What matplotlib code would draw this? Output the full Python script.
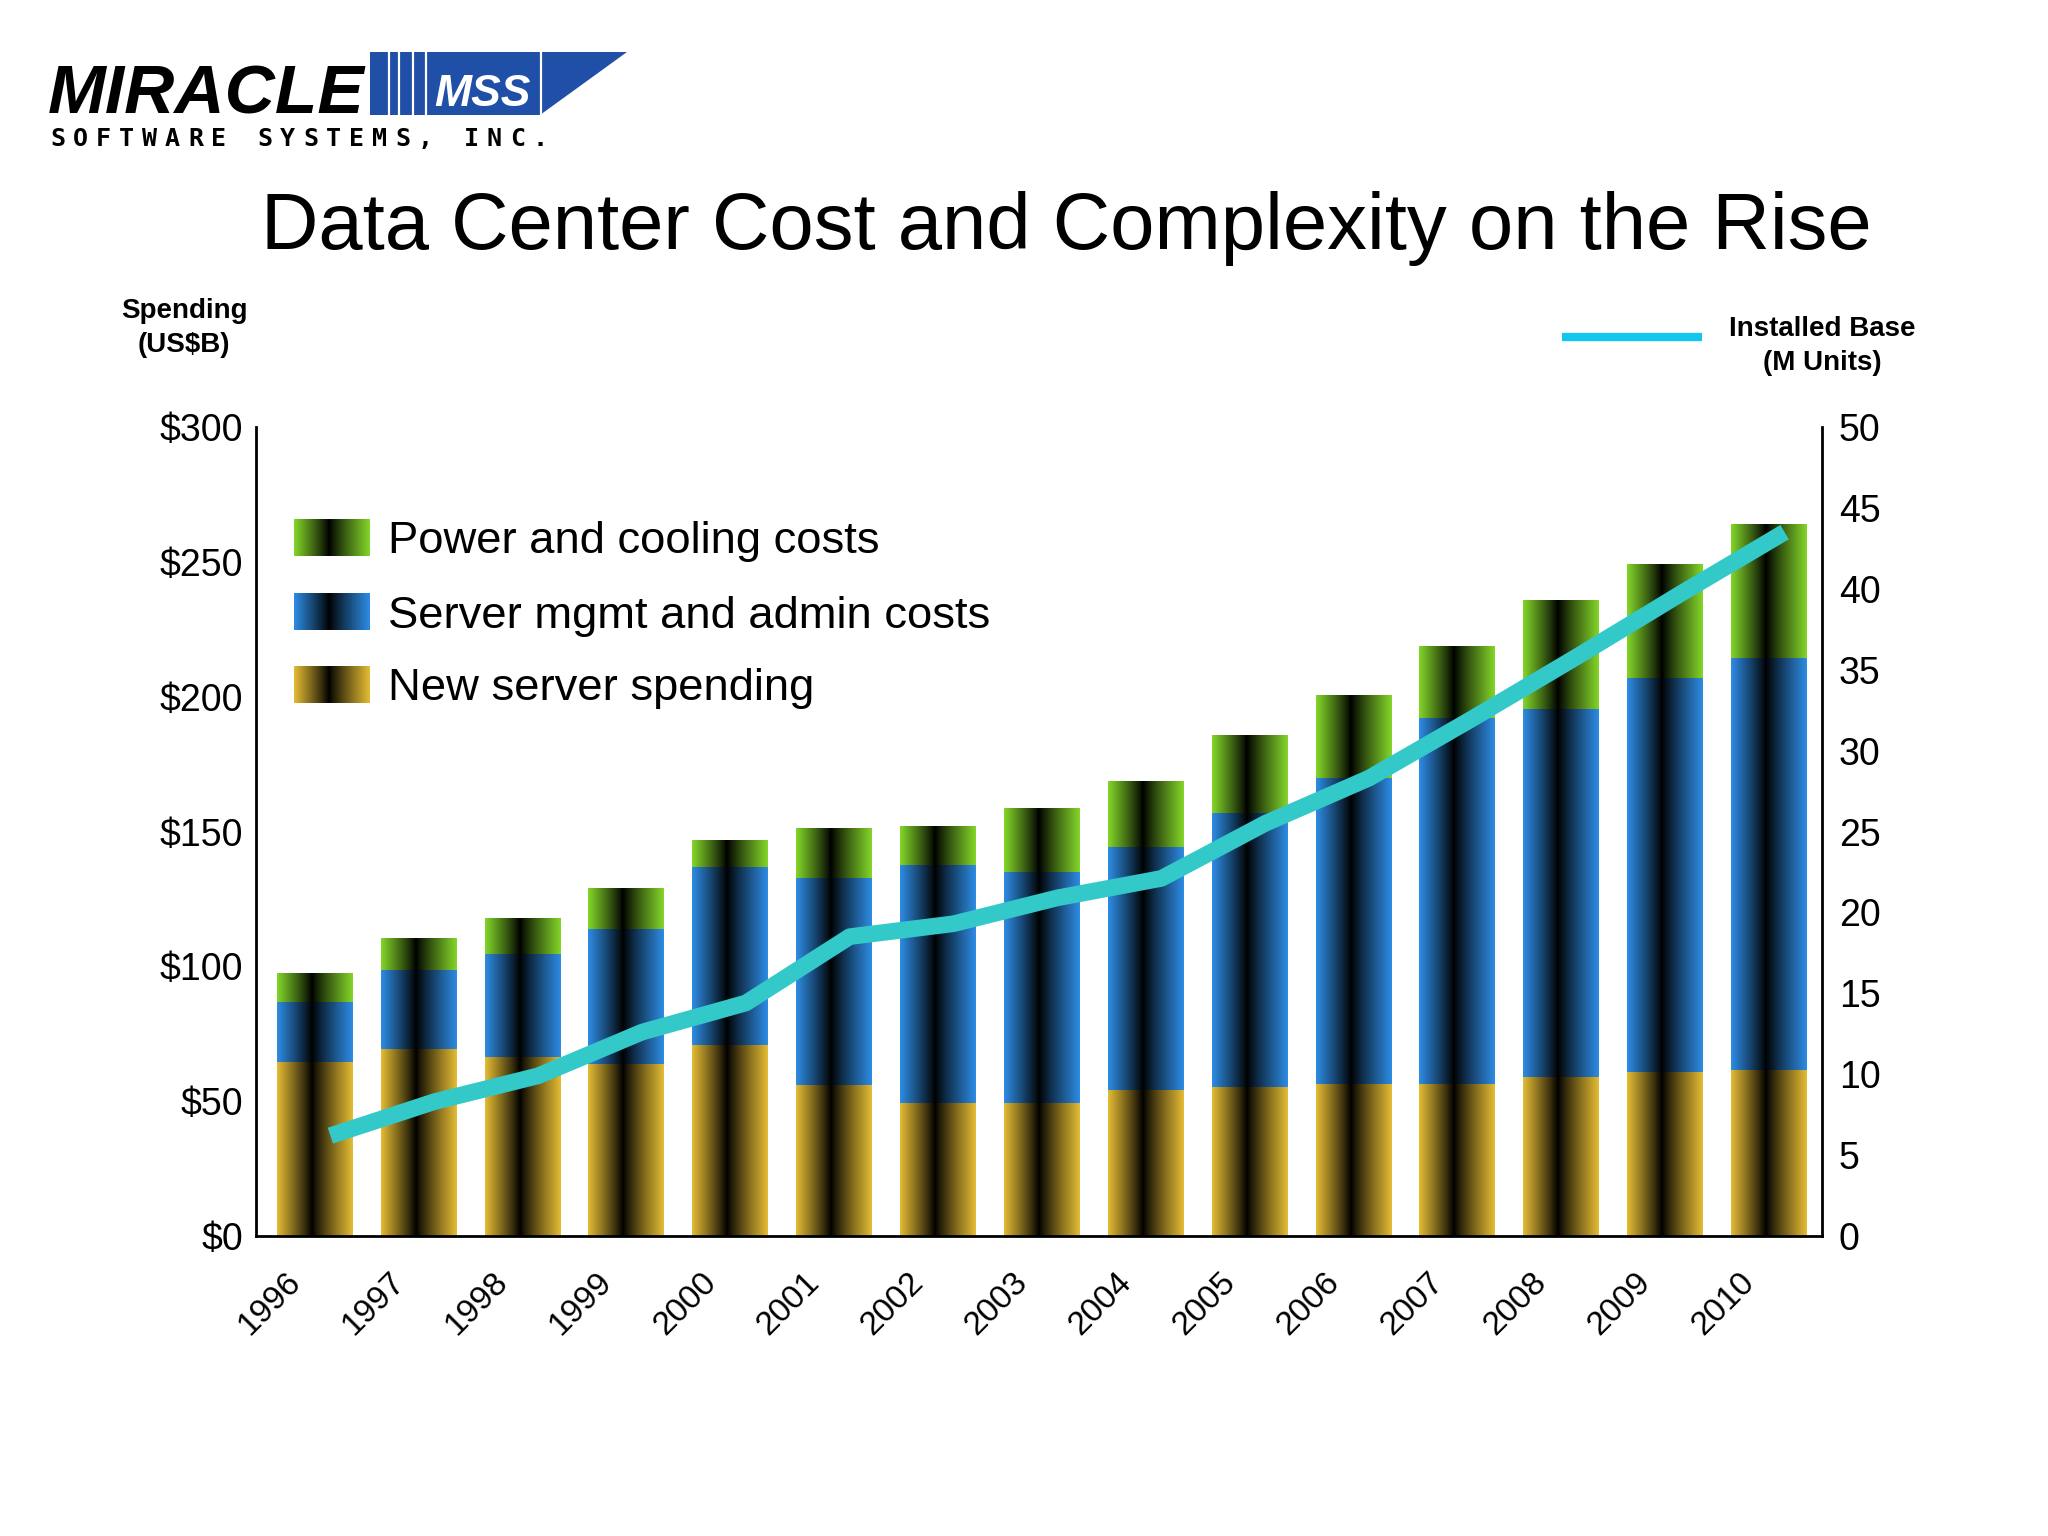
import numpy as np
import matplotlib
matplotlib.use('Agg')
import matplotlib.pyplot as plt
import matplotlib.colors as mcolors
from matplotlib.patches import Polygon
from matplotlib.transforms import Affine2D, ScaledTranslation

years = [str(y) for y in range(1996, 2011)]
# spending, US$B (stacked segments)
newServer    = [64.4, 69.2, 66.4, 63.9, 70.9, 55.9, 49.4, 49.4, 54.1, 55.2, 56.2, 56.2, 59.1, 61.0, 61.7]
mgmtAdmin    = [22.4, 29.3, 38.3, 50.0, 65.9, 76.9, 88.0, 85.7, 90.0, 101.8, 113.7, 135.9, 136.4, 146.0, 152.5]
powerCooling = [10.5, 11.5, 13.1, 15.0, 9.8, 18.3, 14.3, 23.6, 24.3, 28.6, 30.5, 26.4, 40.4, 42.1, 49.4]
# installed base, M units
installedBase = [6.2, 8.3, 9.9, 12.6, 14.4, 18.5, 19.3, 20.9, 22.1, 25.5, 28.3, 32.0, 35.8, 39.7, 43.5]
seriesNames = ['Power and cooling costs', 'Server mgmt and admin costs', 'New server spending']
yTicksLeft  = [0, 50, 100, 150, 200, 250, 300]
yTicksRight = list(range(0, 55, 5))

GREEN  = '#84d62a'
BLUE   = '#2e8ce4'
GOLD   = '#e4bc34'
LINE   = '#33c9c9'
KEYLINE = '#12c6ef'
LOGOBLUE = '#1f4fa6'

plt.rcParams['font.family'] = ['Liberation Sans', 'DejaVu Sans']

def gradient( color, n=240, center=0.46 ):
    t = np.linspace( 0, 1, n )
    f = np.where( t < center, (center-t)/center, (t-center)/(1-center) )
    f = np.clip( f, 0, 1 )**0.9
    rgb = np.array( mcolors.to_rgb(color) )
    return ( f[:,None] * rgb[None,:] )[None,:,:]

fig = plt.figure( figsize=(20.48, 15.36), dpi=100 )
W, H = 2048., 1536.
pxTrans = Affine2D().scale( 1/W, -1/H ).translate( 0, 1 ) + fig.transFigure

ax = fig.add_axes( [256/W, 1-1236/H, (1822-256)/W, (1236-427)/H] )
x = np.arange( len(years) )
barWidth = 0.73

new  = np.array( newServer )
mgmt = np.array( mgmtAdmin )
pwr  = np.array( powerCooling )
layers = [ (new, 0, GOLD), (mgmt, new, BLUE), (pwr, new+mgmt, GREEN) ]
for vals, bottom, color in layers:
    bars = ax.bar( x, vals, barWidth, bottom=bottom, color='none', edgecolor='none' )
    g = gradient( color )
    for b in bars:
        ax.imshow( g, extent=[b.get_x(), b.get_x()+b.get_width(), b.get_y(), b.get_y()+b.get_height()],
                   aspect='auto', interpolation='bilinear', zorder=2 )

ax.set_xlim( -0.566, 14.51 )
ax.set_ylim( 0, 300 )
ax.set_yticks( yTicksLeft )
ax.set_yticklabels( ['$%d' % v for v in yTicksLeft] )
ax.set_xticks( x )
ax.set_xticklabels( years, rotation=45, ha='right', va='center', rotation_mode='anchor' )
ax.tick_params( axis='y', length=0, labelsize=27, pad=9 )
ax.tick_params( axis='x', length=0, labelsize=24, pad=30 )
for lab in ax.get_xticklabels():
    lab.set_transform( lab.get_transform() + ScaledTranslation( -0.19, 0, fig.dpi_scale_trans ) )
for s in ['top', 'right']:
    ax.spines[s].set_visible( False )
for s in ['left', 'bottom']:
    ax.spines[s].set_linewidth( 2 )

ax2 = ax.twinx()
ax2.plot( x + 0.15, installedBase, color=LINE, lw=12, solid_capstyle='butt', solid_joinstyle='round', zorder=3 )
ax2.set_xlim( ax.get_xlim() )
ax2.set_ylim( 0, 50 )
ax2.set_yticks( yTicksRight )
ax2.tick_params( axis='y', length=0, labelsize=27, pad=12 )
for s in ['top', 'left', 'bottom']:
    ax2.spines[s].set_visible( False )
ax2.spines['right'].set_linewidth( 2 )

# legend swatches
rowsY = [538, 612, 685]
for name, color, yy in zip( seriesNames, [GREEN, BLUE, GOLD], rowsY ):
    sw = fig.add_axes( [294/W, 1-(yy+18)/H, 76/W, 37/H] )
    sw.imshow( gradient(color), aspect='auto', interpolation='bilinear' )
    sw.axis( 'off' )
    fig.text( 388/W, 1-(yy+4)/H, name, fontsize=32.7, ha='left', va='center' )

# axis titles
fig.text( 184/W, 1-328/H, 'Spending\n(US$B)', fontsize=20, fontweight='bold', ha='center', va='center', linespacing=1.35 )
fig.text( 1822/W, 1-346/H, 'Installed Base\n(M Units)', fontsize=20, fontweight='bold', ha='center', va='center', linespacing=1.35 )
fig.add_artist( plt.Line2D( [1562, 1702], [337, 337], transform=pxTrans, color=KEYLINE, lw=6, solid_capstyle='butt' ) )

# title
fig.text( 1066/W, 1-229/H, 'Data Center Cost and Complexity on the Rise', fontsize=57.3, ha='center', va='center' )

# logo
fig.text( 48/W, 1-114/H, 'MIRACLE', fontsize=50, fontweight='bold', fontstyle='italic',
          ha='left', va='baseline' )
fig.add_artist( Polygon( [(370, 52), (627, 52), (540, 115), (370, 115)], closed=True, transform=pxTrans,
                         facecolor=LOGOBLUE, edgecolor='none' ) )
for gx in [389, 399, 413, 426, 541]:
    fig.add_artist( plt.Line2D( [gx, gx], [52, 115], transform=pxTrans, color='white', lw=1.6 ) )
fig.text( 482/W, 1-106/H, 'MSS', fontsize=32, fontweight='bold', fontstyle='italic',
          color='white', ha='center', va='baseline' )
for i, ch in enumerate( 'SOFTWARE SYSTEMS, INC.' ):
    fig.text( (50 + i*23)/W, 1-146/H, ch, fontsize=18, fontweight='bold', family='DejaVu Sans Mono',
              ha='left', va='baseline' )

fig.savefig( 'out.png', dpi=100 )
